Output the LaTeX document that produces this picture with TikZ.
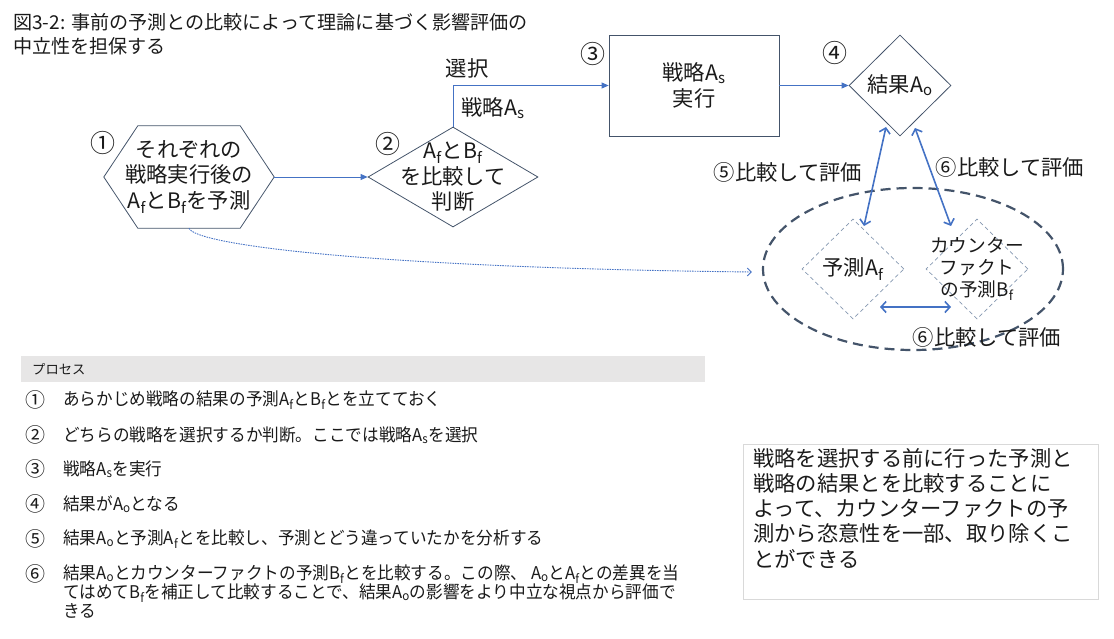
\documentclass[tikz,border=0pt]{standalone}
\usepackage{fontspec}
\setmainfont{Noto Sans CJK JP}
\newfontfamily\listfont[FakeStretch=0.95]{Noto Sans CJK JP}
\usetikzlibrary{shapes.geometric,arrows.meta}
\definecolor{ink}{HTML}{44546A}
\definecolor{link}{HTML}{4472C4}
\definecolor{pale}{HTML}{8497B0}
\definecolor{barfill}{HTML}{E7E6E6}
\definecolor{frame}{HTML}{D9D9D9}
\definecolor{txt}{HTML}{1A1A1A}
\newcommand{\Af}{A\textsubscript{f}}
\newcommand{\Bf}{B\textsubscript{f}}
\newcommand{\As}{A\textsubscript{s}}
\newcommand{\Ao}{A\textsubscript{o}}
\begin{document}
\begin{tikzpicture}[x=1pt,y=-1pt,
    every node/.style={text=txt},
    big/.style={font=\fontsize{21.3}{25.5}\selectfont,align=center},
    mid/.style={font=\fontsize{18.7}{22}\selectfont,align=center},
    num/.style={font=\fontsize{25}{25}\selectfont},
    item/.style={font=\listfont\fontsize{17.5}{19}\selectfont,inner sep=0pt},
    shp/.style={draw=ink,line width=0.8pt},
    dia/.style={shp,diamond,inner sep=0pt},
    fc/.style={diamond,draw=pale,line width=0.7pt,dash pattern=on 4pt off 3pt,
        minimum width=102pt,minimum height=100pt,inner sep=0pt},
    conn/.style={draw=link,line width=0.8pt,-{Triangle[length=7pt,width=6pt]}},
    cmp/.style={draw=link,line width=1.6pt,
        {Straight Barb[length=5pt,width=11pt]}-{Straight Barb[length=5pt,width=11pt]}}]
    \useasboundingbox (0,0) rectangle (1114,639);
    %% title
    \node[anchor=west,inner sep=0pt,align=left,font=\fontsize{19.1}{23.5}\selectfont]
        (title) at (13,34) {図3-2: 事前の予測との比較によって理論に基づく影響評価の\\中立性を担保する};
    %% prediction hexagon
    \node[big,minimum width=170pt,minimum height=102pt] (pred) at (189,177)
        {それぞれの\\戦略実行後の\\\Af と\Bf を予測};
    \draw[shp] (pred.west) -- ([xshift=34pt]pred.north west) -- ([xshift=-34pt]pred.north east)
        -- (pred.east) -- ([xshift=-34pt]pred.south east) -- ([xshift=34pt]pred.south west) -- cycle;
    \node[num] (n1) at (103,143) {①};
    %% judge
    \node[dia,minimum width=170pt,minimum height=100pt,
        label={[big]center:\Af と\Bf\\を比較して\\判断}] (judge) at (453,177) {};
    \node[num] (n2) at (388,144) {②};
    %% execute
    \node[shp,rectangle,big,minimum width=170pt,minimum height=101pt] (exec) at (694,85.5) {戦略\As\\実行};
    \node[num] (n3) at (593,54) {③};
    %% result
    \node[dia,minimum width=102pt,minimum height=101pt,
        label={[big]center:結果\Ao}] (res) at (900,85.5) {};
    \node[num] (n4) at (835,53) {④};
    %% forecasts
    \node[ellipse,draw=ink,line width=2.2pt,dash pattern=on 10pt off 6pt,
        minimum width=300pt,minimum height=162pt] (grp) at (913,269) {};
    \node[fc,label={[big]center:予測\Af}] (fa) at (853,269) {};
    \node[fc,label={[mid]center:カウンター\\ファクト\\の予測\Bf}] (fb) at (977,269) {};
    %% connectors
    \draw[conn] (pred.east) -- (judge.west);
    \draw[conn] (judge.north) |- (exec.west);
    \draw[conn] (exec.east) -- (res.west);
    \node[big] (sel) at (467,68) {選択};
    \node[big] (selA) at (493,108) {戦略\As};
    \draw[draw=link,line width=0.9pt,dash pattern=on 1.5pt off 1pt,-{Straight Barb[length=4pt,width=8pt]}]
        (pred.south) .. controls +(6,17) and +(-373,-4) .. ([xshift=-10pt,yshift=-3pt]grp.west);
    %% comparisons
    \draw[cmp] ([shift={(-14,41.5)}]res.center) -- ([shift={(11,-43)}]fa.center);
    \draw[cmp] ([shift={(15,42.5)}]res.center) -- ([shift={(-26,-43)}]fb.center);
    \draw[cmp] ([shift={(27,38)}]fa.center) -- ([shift={(-26,38)}]fb.center);
    \node[big] (c5) at (788,172) {⑤比較して評価};
    \node[big] (c6) at (1010,167) {⑥比較して評価};
    \node[big] (c6b) at (987,337) {⑥比較して評価};
    %% process list
    \node[fill=barfill,anchor=north west,minimum height=26pt,text width=662pt,inner xsep=11pt,
        inner ysep=0pt,font=\fontsize{13.3}{15}\selectfont] (head) at (21,356) {プロセス};
    \foreach \y/\n/\t in {400/①/{あらかじめ戦略の結果の予測\Af と\Bf とを立てておく},
        435/②/{どちらの戦略を選択するか判断。ここでは戦略\As を選択},
        469/③/{戦略\As を実行},
        504/④/{結果が\Ao となる},
        539/⑤/{結果\Ao と予測\Af とを比較し、予測とどう違っていたかを分析する},
        574/⑥/{結果\Ao とカウンターファクトの予測\Bf とを比較する。この際、 \Ao と\Af との差異を当}}
    {
        \node[item,font=\fontsize{20}{20}\selectfont] (n\y) at (35,\y) {\n};
        \node[item,anchor=west] (t\y) at (63,\y) {\t};
    }
    \node[item,anchor=west] (t593) at (63,593) {てはめて\Bf を補正して比較することで、結果\Ao の影響をより中立な視点から評価で};
    \node[item,anchor=west] (t611) at (63,611) {きる};
    %% note
    \node[draw=frame,line width=0.8pt,anchor=north west,minimum width=355pt,minimum height=155pt] (note) at (743,444) {};
    \node[anchor=north west,inner sep=0pt,align=left,font=\fontsize{21.3}{25.2}\selectfont] (notetxt) at (753,448)
        {戦略を選択する前に行った予測と\\戦略の結果とを比較することに\\よって、カウンターファクトの予\\測から恣意性を一部、取り除くこ\\とができる};
\end{tikzpicture}
\end{document}
